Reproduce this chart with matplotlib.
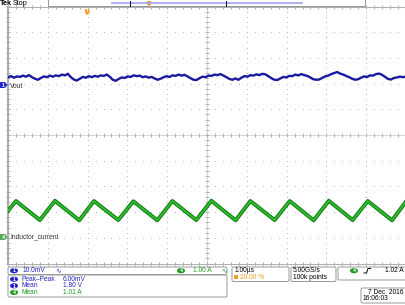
import numpy as np
import matplotlib
matplotlib.use('Agg')
import matplotlib.pyplot as plt
from matplotlib.patches import FancyBboxPatch, Rectangle, Ellipse, Polygon

# ---------------- data ----------------
# Channel 1 (Vout): deviation from channel offset, mV, sampled across the 10 us screen
vout_mv = [3.0, 3.4, 2.8, 3.3, 3.1, 3.6, 3.2, 3.8, 3.0, 2.4, 2.0, 2.7, 3.3, 3.0, 3.6, 3.2,
           3.7, 3.4, 4.0, 3.7, 4.3, 3.0, 2.1, 1.7, 2.4, 3.1, 2.8, 3.4, 3.0, 3.5, 3.2, 3.7,
           3.5, 4.0, 3.2, 2.0, 1.6, 2.3, 2.9, 2.7, 3.3, 3.1, 3.7, 3.4, 3.6, 3.0, 3.3, 2.8,
           3.1, 2.5, 2.0, 2.4, 3.0, 3.4, 3.1, 3.7, 3.5, 4.0, 3.6, 3.9, 3.3, 2.6, 2.0, 1.9,
           2.6, 3.2, 3.0, 3.6, 3.5, 4.0, 3.8, 4.2, 3.6, 3.0, 2.3, 2.0, 2.5, 2.0, 2.8, 3.4,
           3.2, 3.8, 3.6, 4.1, 3.8, 4.3, 4.1, 3.4, 2.6, 2.0, 1.9, 2.5, 3.1, 2.9, 3.5, 3.4,
           4.0, 3.7, 4.2, 3.8, 3.5, 2.9, 2.2, 2.0, 2.1, 2.7, 3.3, 3.6, 4.2, 4.6, 5.0, 4.4,
           4.0, 3.5, 3.0, 2.4, 2.0, 2.2, 2.8, 3.3, 3.1, 3.7, 3.6, 4.2, 4.4, 3.9, 3.1, 2.3,
           2.1, 2.7, 2.9, 3.2, 3.0, 3.3]
# Channel 4 (Inductor_current): vertex times (us) and currents (A)
il_t = [-5.0, -4.80, -4.20, -3.82, -3.21, -2.84, -2.23, -1.85, -1.25, -0.87, -0.27,
        0.11, 0.72, 1.09, 1.70, 2.08, 2.68, 3.06, 3.66, 4.04, 4.65, 5.0]
il_a = [1.02, 1.40, 0.66, 1.41, 0.65, 1.40, 0.66, 1.39, 0.65, 1.40, 0.66,
        1.41, 0.65, 1.40, 0.66, 1.40, 0.65, 1.41, 0.66, 1.40, 0.65, 1.38]

ch1_scale_mv = 10.0
ch4_scale_a = 1.0
ch1_pos_div = 1.95
ch4_pos_div = -3.97

# ---------------- figure ----------------
W, H = 406, 305
fig = plt.figure(figsize=(W / 100, H / 100), dpi=100)
fig.patch.set_facecolor('white')
L, R, T, B = 8, 406, 6.5, 263.5
ax = fig.add_axes([L / W, 1 - B / H, (R - L) / W, (B - T) / H])
ax.set_xlim(-5, 5)
ax.set_ylim(-5, 5)
ax.axis('off')

gcol = '#BCBCBC'
steps = np.arange(-5, 5.001, 0.2)
for k in range(-4, 5):
    if k == 0:
        continue
    ax.plot(np.full_like(steps, k), steps, ls='none', marker='s', ms=0.75, mew=0, color=gcol)
    ax.plot(steps, np.full_like(steps, k), ls='none', marker='s', ms=0.75, mew=0, color=gcol)
# center cross
ax.axhline(0, color='#D8D8D8', lw=0.8)
ax.axvline(0, color='#D8D8D8', lw=0.8)
ax.plot(steps, np.zeros_like(steps), ls='none', marker='|', ms=2.5, mew=0.7, color='#B0B0B0')
ax.plot(np.zeros_like(steps), steps, ls='none', marker='_', ms=2.5, mew=0.7, color='#B0B0B0')
# borders with ticks
ax.plot([-5, -5], [-5, 5], color='#A8A8A8', lw=1.4, clip_on=False)
ax.plot([-5, 5], [5, 5], color='#B0B0B0', lw=0.8, clip_on=False)
ax.plot([-5, 5], [-5, -5], color='#B0B0B0', lw=0.8, clip_on=False)
ax.plot(np.full_like(steps, -5), steps, ls='none', marker='_', ms=3.5, mew=0.7, color='#A8A8A8', clip_on=False)
ax.plot(steps, np.full_like(steps, 5), ls='none', marker='|', ms=3.5, mew=0.7, color='#B0B0B0', clip_on=False)
ax.plot(steps, np.full_like(steps, -5), ls='none', marker='|', ms=3.5, mew=0.7, color='#B0B0B0', clip_on=False)

# traces
t_v = np.linspace(-5, 5, len(vout_mv))
ax.plot(t_v, ch1_pos_div + np.array(vout_mv) / ch1_scale_mv, color='#1A1AA0', lw=1.7,
        solid_joinstyle='miter', zorder=5)
ax.plot(il_t, ch4_pos_div + np.array(il_a) / ch4_scale_a, color='#147A14', lw=2.8, zorder=5)
ax.plot(il_t, ch4_pos_div + np.array(il_a) / ch4_scale_a, color='#2CC02C', lw=1.3, zorder=6)

# ---------------- overlay in pixel coordinates ----------------
ov = fig.add_axes([0, 0, 1, 1])
ov.set_xlim(0, W)
ov.set_ylim(H, 0)
ov.axis('off')
ov.patch.set_alpha(0)
ov.set_zorder(5)

FONT = ['Liberation Sans', 'DejaVu Sans']
FS = 4.8
blue = '#2626C8'
green = '#1E9A1E'
orange = '#F0A020'

def txt(x, y, s, color='black', ha='left', fs=FS, weight='normal'):
    ov.text(x, y, s, color=color, ha=ha, va='center', fontsize=fs, family=FONT, fontweight=weight)

def badge(x, y, s, color):
    ov.add_patch(Ellipse((x, y), 8, 5.2, facecolor=color, edgecolor='none'))
    ov.text(x, y + 0.2, s, color='white', ha='center', va='center', fontsize=3.8, family=FONT, fontweight='bold')

def box(x0, y0, x1, y1):
    ov.add_patch(FancyBboxPatch((x0, y0), x1 - x0, y1 - y0, boxstyle='round,pad=0,rounding_size=1.5',
                                facecolor='white', edgecolor='#9A9A9A', lw=0.7))

# top bar
txt(0, 3.6, 'Tek', fs=5.2, weight='bold')
txt(13, 3.6, 'Stop', fs=5.2)
ov.add_patch(Rectangle((48, -1), 317, 6.7, facecolor='white', edgecolor='#888888', lw=0.6))
ov.plot([112, 302], [3, 3], color='#A0A0F0', lw=1.2)
ov.plot([130, 130], [0.5, 5.7], color='black', lw=0.7)
ov.plot([226, 226], [0.5, 5.7], color='black', lw=0.7)
ov.add_patch(Polygon([[147, 1], [151, 1], [151, 4.5], [149, 6], [147, 4.5]], closed=True,
                     facecolor=orange, edgecolor='none'))
ov.add_patch(Polygon([[85, 9], [89.5, 9], [89.5, 13], [87.2, 15], [85, 13]], closed=True,
                     facecolor=orange, edgecolor='none'))
ov.text(87.2, 11.5, 'T', color='white', ha='center', va='center', fontsize=3, family=FONT, fontweight='bold')

# channel markers
ov.add_patch(Polygon([[0, 82], [5, 82], [7.5, 85], [5, 88], [0, 88]], closed=True, facecolor=blue, edgecolor='none'))
ov.text(3, 85.2, '1', color='white', ha='center', va='center', fontsize=3.8, family=FONT, fontweight='bold')
txt(10, 86, 'Vout', color='#333333')
ov.add_patch(Polygon([[0, 234], [5, 234], [7.5, 237], [5, 240], [0, 240]], closed=True, facecolor='#55AA55', edgecolor='none'))
ov.text(3, 237.2, '4', color='white', ha='center', va='center', fontsize=3.8, family=FONT, fontweight='bold')
txt(10, 237, 'Inductor_current', color='#333333')

# bottom boxes
box(8, 267, 227, 274.5)
badge(14, 270.7, '1', blue)
txt(23, 270.7, '10.0mV', color=blue)
txt(55, 270.7, '\u223f', color=blue)
badge(181, 270.7, '4', green)
txt(193, 270.7, '1.00 A', color=green)
txt(221, 270.7, '\u223f', color=green)

box(8, 275, 227, 297)
rows = [('1', blue, 'Peak\u2013Peak', '6.00mV'), ('1', blue, 'Mean', '1.80 V'), ('4', green, 'Mean', '1.01 A')]
for i, (c, col, name, val) in enumerate(rows):
    yy = 279.2 + i * 6.6
    badge(14, yy, c, col)
    txt(22, yy, name, color=col)
    txt(63, yy, val, color=col)

box(232, 267, 289, 281.5)
txt(235, 270.7, '1.00\u00b5s')
ov.add_patch(Rectangle((234.5, 275.3), 3.6, 3.8, facecolor=orange, edgecolor='none'))
txt(240, 277.3, '20.00 %', color=orange)

box(291, 267, 336, 281.5)
txt(293, 270.7, '5.00GS/s')
txt(293, 277.3, '100k points')

box(338, 267, 407, 280)
badge(354, 270.7, '4', green)
ov.plot([364, 366.5, 368, 370.5], [273, 273, 268.5, 268.5], color='black', lw=0.7)
txt(404, 270.7, '1.02 A', ha='right')

box(361, 288, 407, 303)
txt(404, 292.3, '7 Dec  2016', ha='right')
txt(363, 299, '16:06:03')

fig.savefig('out.png', dpi=100, facecolor='white')
